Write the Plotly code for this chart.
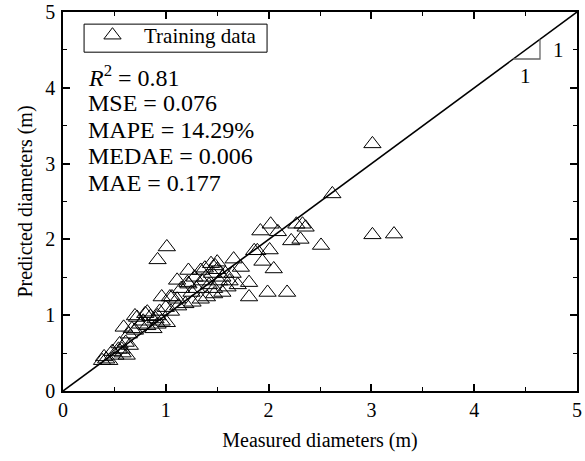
import plotly.graph_objects as go

measured = [0.38, 0.42, 0.40, 0.45, 0.51, 0.57, 0.62, 0.65, 0.61, 0.54, 0.59, 0.64, 0.70, 0.72,
            0.80, 0.82, 0.88, 0.90, 0.67, 0.48, 0.58, 0.55, 0.75, 0.78, 0.92, 0.85, 0.94, 0.96,
            0.70, 0.82, 0.92, 0.96, 1.06, 1.11, 1.22, 1.21, 1.01, 1.01, 0.92,
            1.22, 1.34, 1.44, 1.48, 1.39, 1.55, 1.66, 1.73, 1.81, 1.81, 1.60, 1.47, 1.34, 1.26,
            1.19, 1.11, 1.04, 1.40, 1.47, 1.89,
            1.45, 1.50, 1.52, 1.30, 1.25, 1.35, 1.42, 1.58, 1.62, 1.65, 1.70, 1.55, 1.28, 1.15,
            1.05, 1.00, 1.12, 1.38, 1.50,
            1.92, 2.02, 2.09, 2.27, 2.33, 2.36, 2.22, 2.31, 1.86, 2.01, 1.94, 2.05, 1.99, 2.18,
            2.51, 2.62, 3.01, 3.01, 3.22]
predicted = [0.40, 0.42, 0.45, 0.40, 0.47, 0.55, 0.47, 0.60, 0.64, 0.55, 0.84, 0.75, 0.80, 0.97,
             1.02, 0.86, 0.82, 0.95, 0.82, 0.52, 0.50, 0.62, 0.88, 0.92, 0.88, 0.98, 1.05, 0.92,
             0.99, 1.04, 0.99, 1.24, 1.24, 1.46, 1.59, 1.43, 0.90, 1.90, 1.73,
             1.41, 1.59, 1.68, 1.65, 1.50, 1.50, 1.74, 1.63, 1.43, 1.24, 1.37, 1.35, 1.21, 1.17,
             1.15, 1.21, 1.24, 1.24, 1.28, 1.85,
             1.55, 1.60, 1.45, 1.35, 1.30, 1.45, 1.40, 1.55, 1.45, 1.55, 1.40, 1.30, 1.50, 1.35,
             1.05, 1.10, 1.12, 1.62, 1.70,
             2.11, 2.20, 2.10, 2.20, 2.20, 2.16, 1.98, 2.00, 1.85, 1.86, 1.71, 1.61, 1.30, 1.30,
             1.92, 2.60, 3.26, 2.06, 2.07]

ref_line = [0, 5]
slope_x = [4.38, 4.64, 4.64]
slope_y = [4.38, 4.38, 4.64]
stats_text = ["<i>R</i><sup>2</sup> = 0.81", "MSE = 0.076", "MAPE = 14.29%",
              "MEDAE = 0.006", "MAE = 0.177"]
stats_y = [4.15, 3.795, 3.44, 3.095, 2.74]
ticks = [0, 1, 2, 3, 4, 5]

FONT = "Liberation Serif"

fig = go.Figure()
fig.add_trace(go.Scatter(x=ref_line, y=ref_line, mode="lines",
                         line=dict(color="black", width=1.6), showlegend=False,
                         hoverinfo="skip"))
fig.add_trace(go.Scatter(x=slope_x, y=slope_y, mode="lines",
                         line=dict(color="#666666", width=1.3), showlegend=False,
                         hoverinfo="skip"))
fig.add_trace(go.Scatter(x=measured, y=predicted, mode="markers", name="Training data",
                         marker=dict(symbol="triangle-up-open", size=15,
                                     color="black", line=dict(width=1, color="black"))))

for t, yv in zip(stats_text, stats_y):
    fig.add_annotation(x=0.22, y=yv, xref="x", yref="y", text=t, showarrow=False,
                       xanchor="left", yanchor="middle",
                       font=dict(family=FONT, size=24, color="black"))
fig.add_annotation(x=4.5, y=4.16, text="1", showarrow=False,
                   font=dict(family=FONT, size=21, color="black"))
fig.add_annotation(x=4.82, y=4.5, text="1", showarrow=False,
                   font=dict(family=FONT, size=21, color="black"))

# legend frame
fig.add_shape(type="rect", xref="paper", yref="paper", x0=0.041, x1=0.397,
              y0=0.894, y1=0.968, line=dict(color="black", width=1), fillcolor="rgba(0,0,0,0)")

axis_common = dict(range=[0, 5], tickvals=ticks, showline=True, linecolor="black",
                   linewidth=1.5, mirror="ticks", ticks="inside", ticklen=7,
                   tickwidth=1.5, tickcolor="black", showgrid=False, zeroline=False,
                   automargin=False,
                   tickfont=dict(family=FONT, size=20, color="black"),
                   minor=dict(dtick=0.5, ticks="inside", ticklen=4, tickcolor="black",
                              tickwidth=1.2, showgrid=False))

fig.update_layout(
    width=585, height=461,
    margin=dict(l=63, r=8, t=12, b=70, autoexpand=False),
    paper_bgcolor="white", plot_bgcolor="white",
    font=dict(family=FONT, color="black"),
    xaxis=dict(title=dict(text="Measured diameters (m)", font=dict(family=FONT, size=20),
                          standoff=13), **axis_common),
    yaxis=dict(title=dict(text="Predicted diameters (m)", font=dict(family=FONT, size=20),
                          standoff=7), ticklabelstandoff=2, **axis_common),
    legend=dict(x=0.035, y=0.992, xanchor="left", yanchor="top",
                borderwidth=0, bgcolor="rgba(0,0,0,0)",
                font=dict(family=FONT, size=21, color="black"),
                itemwidth=53, tracegroupgap=0),
)

fig.write_html("out.html")
